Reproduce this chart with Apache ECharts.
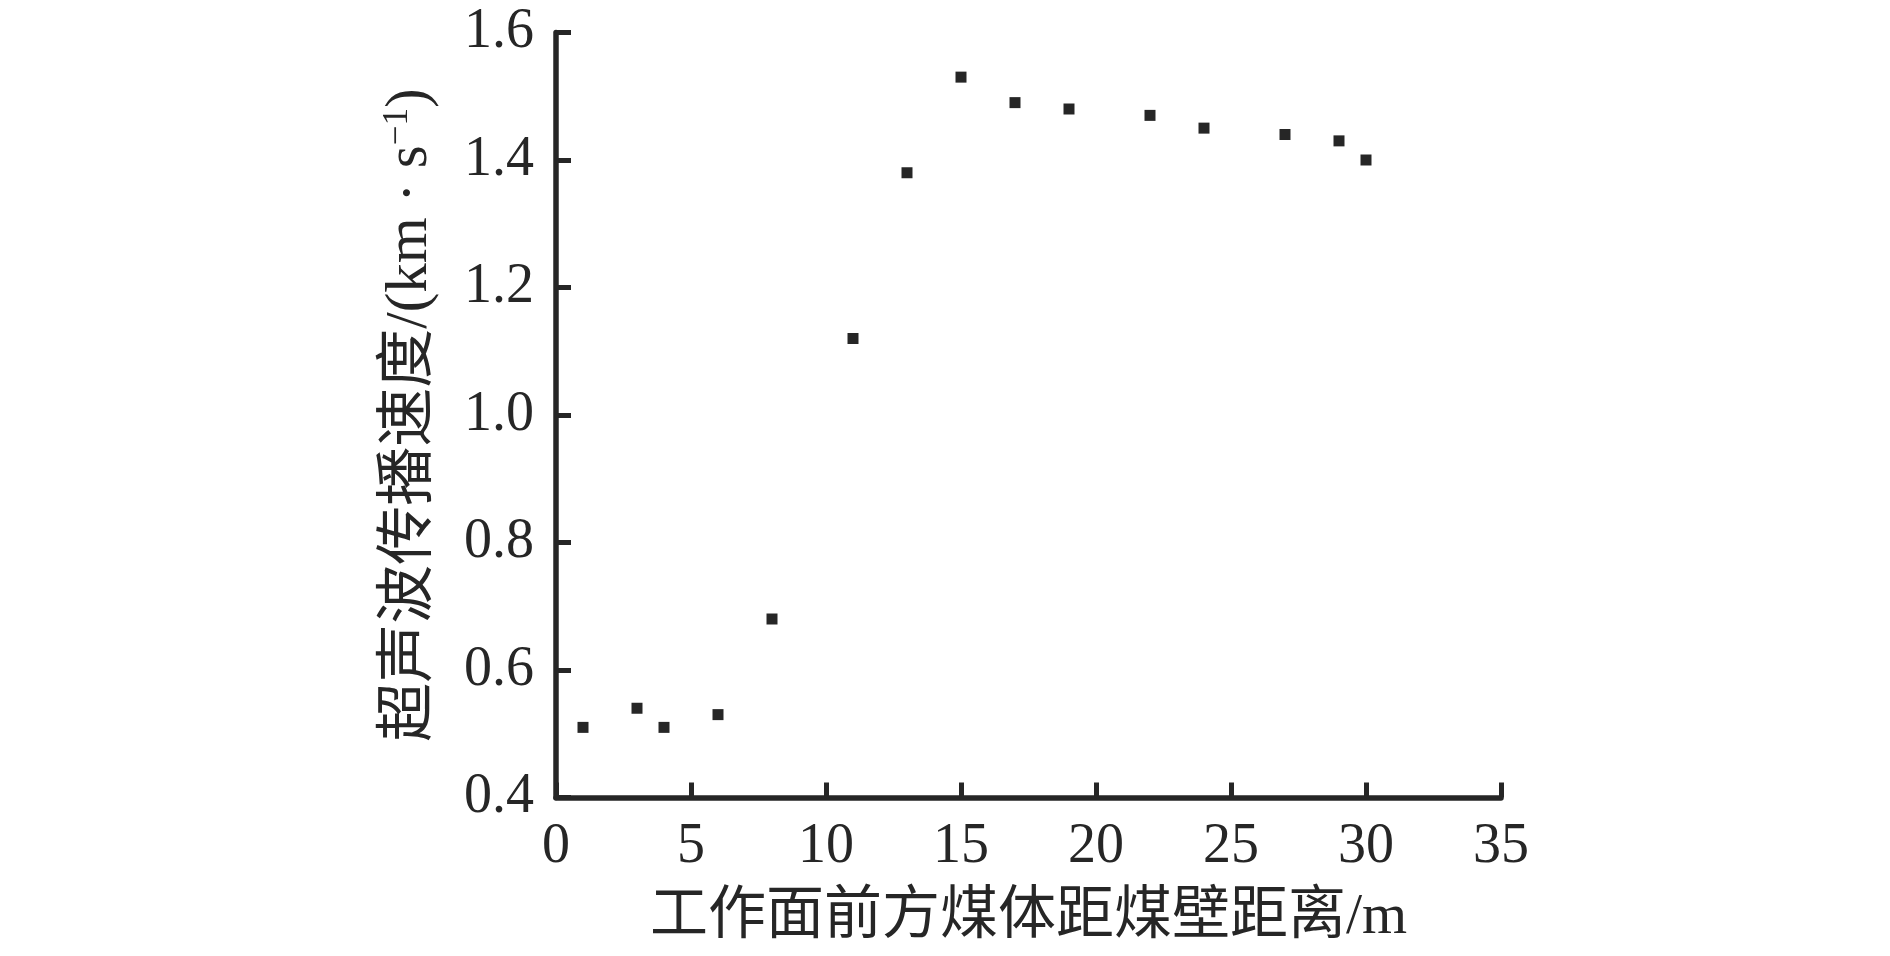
<!DOCTYPE html>
<html>
<head>
<meta charset="utf-8">
<script src="https://cdn.jsdelivr.net/npm/echarts@6/dist/echarts.min.js"></script>
<style>
html,body{margin:0;padding:0;background:#fff;}
#chart{width:1890px;height:956px;}
</style>
</head>
<body>
<div id="chart"></div>
<script>
const distances = [1, 3, 4, 6, 8, 11, 13, 15, 17, 19, 22, 24, 27, 29, 30];
const velocities = [0.51, 0.54, 0.51, 0.53, 0.68, 1.12, 1.38, 1.53, 1.49, 1.48, 1.47, 1.45, 1.44, 1.43, 1.40];
const xTitle = '工作面前方煤体距煤壁距离/m';
const yTitleMain = '超声波传播速度/(km · s';
const yTitleSup = '−1';
const yTitleEnd = ')';

const FONT = '"Liberation Serif", "Noto Sans CJK SC", serif';
const INK = '#262626';

const chart = echarts.init(document.getElementById('chart'));
chart.setOption({
  backgroundColor: '#ffffff',
  animation: false,
  grid: {left: 556, right: 389, top: 32.5, bottom: 158.5, containLabel: false},
  xAxis: {
    type: 'value', min: 0, max: 35, interval: 5,
    name: xTitle, nameLocation: 'middle', nameGap: 91,
    nameTextStyle: {fontFamily: FONT, fontSize: 58, color: INK},
    axisLine: {show: true, onZero: false, lineStyle: {color: INK, width: 5.5}},
    axisTick: {show: true, inside: true, length: 15, lineStyle: {color: INK, width: 5}},
    axisLabel: {fontFamily: FONT, fontSize: 56, color: INK, margin: 22},
    splitLine: {show: false}
  },
  yAxis: {
    type: 'value', min: 0.4, max: 1.6, interval: 0.2,
    name: '{m|' + yTitleMain + '}{s|' + yTitleSup + '}{m|' + yTitleEnd + '}',
    nameLocation: 'middle', nameGap: 114,
    nameTextStyle: {
      fontFamily: FONT, fontSize: 59, color: INK,
      rich: {
        m: {fontFamily: FONT, fontSize: 59, color: INK},
        s: {fontFamily: FONT, fontSize: 35, color: INK, padding: [0, 0, 27, 0]}
      }
    },
    axisLine: {show: true, onZero: false, lineStyle: {color: INK, width: 5.5}},
    axisTick: {show: true, inside: true, length: 15, lineStyle: {color: INK, width: 5}},
    axisLabel: {fontFamily: FONT, fontSize: 56, color: INK, margin: 22,
      formatter: v => v.toFixed(1)},
    splitLine: {show: false}
  },
  series: [{
    type: 'scatter',
    symbol: 'rect',
    symbolSize: 11,
    itemStyle: {color: INK, opacity: 1},
    data: distances.map((d, i) => [d, velocities[i]])
  }]
});
</script>
</body>
</html>
